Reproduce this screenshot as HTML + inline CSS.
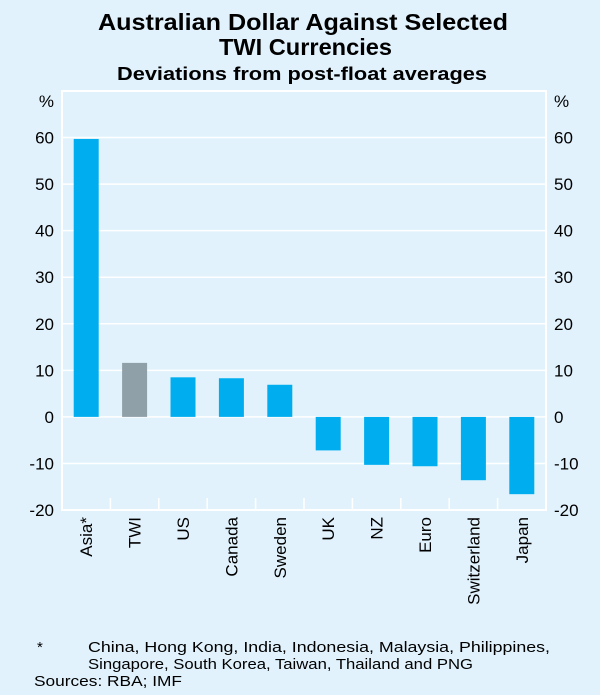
<!DOCTYPE html>
<html><head><meta charset="utf-8"><style>
body{margin:0;background:#e1f2fc;font-family:"Liberation Sans",Arial,sans-serif;}
svg{display:block}
</style></head><body>
<svg width="600" height="695" xmlns="http://www.w3.org/2000/svg">
<rect width="600" height="695" fill="#e1f2fc"/>
<text x="98" y="30" textLength="410" lengthAdjust="spacingAndGlyphs" font-size="23" font-weight="bold" fill="#000">Australian Dollar Against Selected</text>
<text x="219" y="55" textLength="173" lengthAdjust="spacingAndGlyphs" font-size="23" font-weight="bold" fill="#000">TWI Currencies</text>
<text x="117" y="80" textLength="370" lengthAdjust="spacingAndGlyphs" font-size="18" font-weight="bold" fill="#000">Deviations from post-float averages</text>
<g id="plot"></g>
<text x="37" y="652" font-size="15">*</text>
<text x="88" y="652" textLength="462" lengthAdjust="spacingAndGlyphs" font-size="15">China, Hong Kong, India, Indonesia, Malaysia, Philippines,</text>
<text x="88" y="669" textLength="385" lengthAdjust="spacingAndGlyphs" font-size="15">Singapore, South Korea, Taiwan, Thailand and PNG</text>
<text x="34" y="686" textLength="148" lengthAdjust="spacingAndGlyphs" font-size="15">Sources: RBA; IMF</text>
</svg>
<script>
const categories=["Asia*","TWI","US","Canada","Sweden","UK","NZ","Euro","Switzerland","Japan"];
const values=[59.7,11.6,8.5,8.3,6.9,-7.2,-10.3,-10.6,-13.6,-16.6];
const highlight=[false,true,false,false,false,false,false,false,false,false];
const yTicks=[-20,-10,0,10,20,30,40,50,60];
const yTickLabels=["-20","-10","0","10","20","30","40","50","60"];
const L=62,R=546,T=91,B=510,yMin=-20,yMax=70;
const ns="http://www.w3.org/2000/svg";
const g=document.getElementById('plot');
function y(v){return B-(v-yMin)/(yMax-yMin)*(B-T);}
const bw=(R-L)/categories.length;
function x(i){return L+bw*(i+0.5);}
function mk(t,a){const e=document.createElementNS(ns,t);for(const k in a)e.setAttribute(k,a[k]);g.appendChild(e);return e;}
let fr=mk('rect',{x:L,y:T,width:R-L,height:B-T,fill:'none',stroke:'#fff','stroke-width':2});


yTicks.forEach((v,i)=>{
 let ln=mk('line',{x1:L,x2:R,y1:y(v),y2:y(v),stroke:'#fff','stroke-width':1.5});
 
 
 let t1=mk('text',{x:L-8,y:y(v)+6,'text-anchor':'end','font-size':17});
 t1.textContent=yTickLabels[i];
 
 
 let t2=mk('text',{x:R+8,y:y(v)+6,'text-anchor':'start','font-size':17});
 t2.textContent=yTickLabels[i];
 
 
});
let u1=mk('text',{x:L-8,y:T+16,'text-anchor':'end','font-size':17});u1.textContent='%';


let u2=mk('text',{x:R+8,y:T+16,'text-anchor':'start','font-size':17});u2.textContent='%';


categories.forEach((c,i)=>{
 const v=values[i];
 let r=mk('rect',{x:x(i)-12.5,y:Math.min(y(v),y(0)),width:25,height:Math.abs(y(v)-y(0)),fill:highlight[i]?'#8fa0a8':'#00aeef'});
 
 
 if(i>0){let tk=mk('line',{x1:L+bw*i,x2:L+bw*i,y1:B,y2:B-12,stroke:'#fff','stroke-width':1.5});
 
 }
 let t=mk('text',{x:0,y:0,'text-anchor':'end','font-size':17,transform:`translate(${x(i)+6},${B+7}) rotate(-90)`});
 t.textContent=c;
 
 
});
</script>
</body></html>
